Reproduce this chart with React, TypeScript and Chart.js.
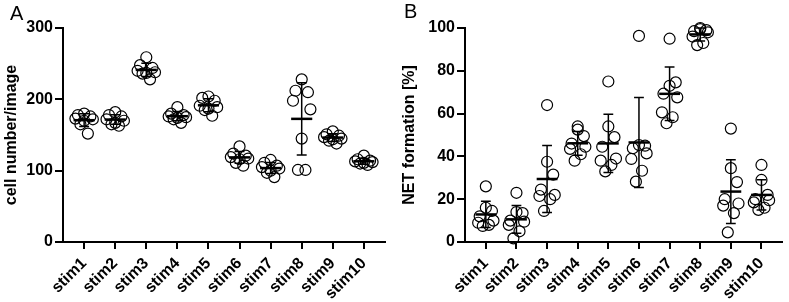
import React, { useEffect, useRef } from "react";
import { Chart, registerables } from "chart.js";

Chart.register(...registerables);

const CATEGORIES = ["stim1", "stim2", "stim3", "stim4", "stim5", "stim6", "stim7", "stim8", "stim9", "stim10"];

// Panel A: cell number/image
const cellStim1 = [180, 178, 176, 173, 172, 170, 165, 152];
const cellStim2 = [182, 178, 176, 172, 170, 167, 165, 163];
const cellStim3 = [259, 248, 244, 240, 238, 237, 236, 228];
const cellStim4 = [189, 180, 178, 176, 175, 174, 172, 167];
const cellStim5 = [204, 202, 198, 191, 189, 187, 185, 177];
const cellStim6 = [134, 124, 121, 119, 117, 116, 111, 107];
const cellStim7 = [115, 111, 107, 105, 103, 100, 97, 91];
const cellStim8 = [228, 212, 210, 198, 186, 145, 101, 101];
const cellStim9 = [155, 151, 149, 147, 145, 144, 142, 138];
const cellStim10 = [121, 116, 114, 113, 112, 111, 110, 108];

// Panel B: NET formation [%]
const netStim1 = [26, 16, 14.5, 12, 10, 9, 8, 7.5];
const netStim2 = [23, 14, 13.5, 10, 9.5, 8, 5, 1.7];
const netStim3 = [64, 37.5, 31.5, 24.5, 22, 21.5, 20, 14.5];
const netStim4 = [54, 52.5, 49.5, 46, 44.5, 43.5, 41, 38];
const netStim5 = [75, 54, 49, 44.5, 39, 38, 36, 33];
const netStim6 = [96.3, 45.3, 45, 43.8, 41.4, 38.8, 33.3, 28.2];
const netStim7 = [95, 73, 74.6, 69.3, 67.6, 60.6, 58.3, 55.5];
const netStim8 = [100, 99.5, 99, 98.5, 98, 96, 93, 92];
const netStim9 = [53, 34.5, 28, 20, 18, 17, 13.5, 4.5];
const netStim10 = [36, 29, 22, 20, 19.5, 18.5, 16, 15];

// horizontal scatter offsets (in category units) per point index
const JITTER_A = [0, -0.2, 0.2, -0.28, 0.28, 0, -0.12, 0.12];
const JITTER_B = [0, 0, 0.2, -0.2, 0.25, -0.25, 0.1, -0.1];

const CELL_GROUPS = [cellStim1, cellStim2, cellStim3, cellStim4, cellStim5, cellStim6, cellStim7, cellStim8, cellStim9, cellStim10];
const NET_GROUPS = [netStim1, netStim2, netStim3, netStim4, netStim5, netStim6, netStim7, netStim8, netStim9, netStim10];

const FONT = "'Liberation Sans', Arial, Helvetica, sans-serif";

function meanSd(vals: number[]) {
  const m = vals.reduce((a, b) => a + b, 0) / vals.length;
  const v = vals.reduce((a, b) => a + (b - m) * (b - m), 0) / (vals.length - 1);
  return { m, sd: Math.sqrt(v) };
}

const meanSdPlugin = {
  id: "meanSd",
  afterDatasetsDraw(chart: any, _args: any, opts: any) {
    const groups: number[][] = opts.groups;
    if (!groups) return;
    const xs = chart.scales.x;
    const ys = chart.scales.y;
    const ctx = chart.ctx;
    ctx.save();
    ctx.strokeStyle = "#000";
    groups.forEach((g, i) => {
      const { m, sd } = meanSd(g);
      const cx = xs.getPixelForValue(i + 1);
      const half = xs.getPixelForValue(i + 1 + 0.34) - cx;
      const cap = xs.getPixelForValue(i + 1 + 0.16) - cx;
      const yM = ys.getPixelForValue(m);
      const yT = ys.getPixelForValue(m + sd);
      const yB = ys.getPixelForValue(Math.max(m - sd, ys.min));
      ctx.lineWidth = 1.5;
      ctx.beginPath();
      ctx.moveTo(cx, yT);
      ctx.lineTo(cx, yB);
      ctx.moveTo(cx - cap, yT);
      ctx.lineTo(cx + cap, yT);
      if (m - sd > ys.min) {
        ctx.moveTo(cx - cap, yB);
        ctx.lineTo(cx + cap, yB);
      }
      ctx.stroke();
      ctx.lineWidth = 2.5;
      ctx.beginPath();
      ctx.moveTo(cx - half, yM);
      ctx.lineTo(cx + half, yM);
      ctx.stroke();
    });
    ctx.restore();
  },
};

function buildConfig(groups: number[][], jitter: number[], yMax: number, yStep: number, yTitle: string, yWidth: number, rightPad: number) {
  const points: { x: number; y: number }[] = [];
  groups.forEach((g, i) => {
    g.forEach((v, j) => points.push({ x: i + 1 + jitter[j % jitter.length], y: v }));
  });
  const tickFont = { family: FONT, size: 16, weight: "bold" as const };
  return {
    type: "scatter" as const,
    data: {
      datasets: [
        {
          data: points,
          pointRadius: 5.5,
          pointHoverRadius: 5.5,
          pointBorderWidth: 1.2,
          pointBorderColor: "#000",
          pointBackgroundColor: "rgba(0,0,0,0)",
          clip: false as const,
        },
      ],
    },
    options: {
      responsive: false,
      animation: false as const,
      events: [] as any[],
      layout: { padding: { top: 28, right: rightPad, left: 0, bottom: 0 } },
      plugins: {
        legend: { display: false },
        tooltip: { enabled: false },
        meanSd: { groups },
      },
      scales: {
        x: {
          type: "linear" as const,
          min: 0.32,
          max: 10.68,
          afterBuildTicks: (s: any) => {
            s.ticks = CATEGORIES.map((_, i) => ({ value: i + 1 }));
          },
          afterFit: (s: any) => {
            s.height = 60;
          },
          ticks: {
            autoSkip: false,
            minRotation: 45,
            maxRotation: 45,
            padding: 5,
            color: "#000",
            font: tickFont,
            callback: (v: any) => CATEGORIES[Math.round(v) - 1] ?? "",
          },
          grid: { drawOnChartArea: false, drawTicks: true, tickLength: 7, color: "#000", lineWidth: 2 },
          border: { display: true, color: "#000", width: 2 },
        },
        y: {
          type: "linear" as const,
          min: 0,
          max: yMax,
          afterFit: (s: any) => {
            s.width = yWidth;
          },
          ticks: { stepSize: yStep, padding: 2, color: "#000", font: tickFont },
          grid: { drawOnChartArea: false, drawTicks: true, tickLength: 8, color: "#000", lineWidth: 2 },
          border: { display: true, color: "#000", width: 2 },
          title: { display: true, text: yTitle, color: "#000", font: { family: FONT, size: 16, weight: "bold" as const }, padding: { top: 2, bottom: 0 } },
        },
      },
    },
    plugins: [meanSdPlugin],
  };
}

function Panel({ left, width, config }: { left: number; width: number; config: any }) {
  const ref = useRef<HTMLCanvasElement>(null);
  useEffect(() => {
    if (!ref.current) return;
    const chart = new Chart(ref.current, config);
    return () => chart.destroy();
  }, []);
  return (
    <canvas
      ref={ref}
      width={width}
      height={302}
      style={{ position: "absolute", left, top: 0, width, height: 302 }}
    />
  );
}

export default function App() {
  const cfgA = buildConfig(CELL_GROUPS, JITTER_A, 300, 100, "cell number/image", 63, 10);
  const cfgB = buildConfig(NET_GROUPS, JITTER_B, 100, 20, "NET formation [%]", 67, 2);
  const letter: React.CSSProperties = {
    position: "absolute",
    fontFamily: FONT,
    fontSize: 20,
    lineHeight: "22px",
    color: "#000",
  };
  return (
    <div style={{ position: "absolute", left: 0, top: 0, width: 789, height: 302, background: "#fff", overflow: "hidden" }}>
      <Panel left={0} width={395} config={cfgA} />
      <Panel left={398} width={391} config={cfgB} />
      <div style={{ ...letter, left: 10, top: 2 }}>A</div>
      <div style={{ ...letter, left: 404, top: 0 }}>B</div>
    </div>
  );
}
